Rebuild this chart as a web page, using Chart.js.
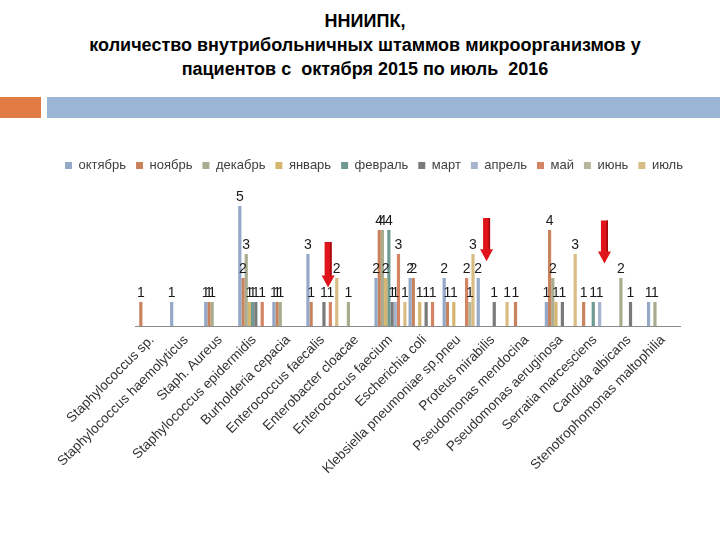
<!DOCTYPE html>
<html>
<head>
<meta charset="utf-8">
<script src="https://cdn.jsdelivr.net/npm/chart.js@4.4.0/dist/chart.umd.min.js"></script>
<style>
  body { margin: 0; background: #fff; width: 720px; height: 540px; position: relative; overflow: hidden; }
  #title { position: absolute; top: 9px; left: 0; width: 730px; text-align: center;
           font-family: "Liberation Sans", Arial, sans-serif; font-weight: bold;
           font-size: 18px; line-height: 24px; color: #000; }
  .strip-o { position: absolute; left: 0; top: 97px; width: 41px; height: 21px; background: #E07B43; }
  .strip-b { position: absolute; left: 47px; top: 97px; width: 673px; height: 21px; background: #9BB5D6; }
  #wrap { position: absolute; left: 0; top: 0; width: 720px; height: 540px; }
</style>
</head>
<body>
<div id="title">ННИИПК,<br>количество внутрибольничных штаммов микроорганизмов у<br>пациентов с&nbsp; октября 2015 по июль&nbsp; 2016</div>
<div class="strip-o"></div>
<div class="strip-b"></div>
<div id="wrap"><canvas id="chart" width="720" height="540"></canvas></div>

<script>
// микроорганизмы
const categories = [
  'Staphylococcus sp.', 'Staphylococcus haemolyticus', 'Staph. Aureus', 'Staphylococcus epidermidis',
  'Burholderia cepacia', 'Enterococcus faecalis', 'Enterobacter cloacae', 'Enterococcus faecium',
  'Escherichia coli', 'Klebsiella pneumoniae sp.pneu', 'Proteus mirabilis', 'Pseudomonas mendocina',
  'Pseudomonas aeruginosa', 'Serratia marcesciens', 'Candida albicans', 'Stenotrophomonas maltophilia'
];

const months = ['октябрь', 'ноябрь', 'декабрь', 'январь', 'февраль', 'март', 'апрель', 'май', 'июнь', 'июль'];

// количество штаммов по месяцам (null = нет)
const oct = [null, 1, 1, 5, 1, 3, null, 2, 2, 2, 2, null, 1, null, null, 1];
const nov = [1, null, 1, 2, 1, 1, null, 4, 2, 1, null, 1, 4, 1, null, null];
const dec = [null, null, 1, 3, 1, null, 1, 4, null, null, null, null, 2, null, 2, 1];
const jan = [null, null, null, 1, null, null, null, 2, 1, 1, null, null, 1, null, null, null];
const feb = [null, null, null, 1, null, null, null, 4, null, null, null, null, null, 1, null, null];
const mar = [null, null, null, 1, null, 1, null, 1, 1, null, 1, null, 1, null, 1, null];
const apr = [null, null, null, null, null, null, null, 1, null, null, null, null, null, 1, null, null];
const may = [null, null, null, 1, null, 1, null, 3, 1, 2, null, null, null, null, null, null];
const jun = [null, null, null, null, null, null, null, null, null, 1, null, null, null, null, null, null];
const jul = [null, null, null, null, null, 2, null, 1, null, 3, 1, null, 3, null, null, null];

const seriesData = [oct, nov, dec, jan, feb, mar, apr, may, jun, jul];
const colors = ['#94A8C8', '#C8835C', '#A9AC8E', '#D6B66E', '#6F9A91',
                '#7A7A7A', '#A6B3CF', '#D48462', '#B5B79B', '#D9BC84'];

// подписи значений над столбцами
const valueLabels = {
  id: 'valueLabels',
  afterDatasetsDraw(chart) {
    const ctx = chart.ctx;
    ctx.save();
    ctx.font = '14px "Liberation Sans", Arial, sans-serif';
    ctx.fillStyle = '#1a1a1a';
    ctx.textAlign = 'center';
    ctx.textBaseline = 'bottom';
    chart.data.datasets.forEach((ds, i) => {
      chart.getDatasetMeta(i).data.forEach((bar, k) => {
        const v = ds.data[k];
        if (v) ctx.fillText(String(v), bar.x, bar.y - 2);
      });
    });
    ctx.restore();
  }
};

// красные стрелки (категория, смещение в ширинах столбца, от значения, до значения)
const arrows = [
  { cat: 5, slot: 6.3, from: 3.5, to: 1.6 },
  { cat: 10, slot: 2.6, from: 4.5, to: 2.7 },
  { cat: 13, slot: 7.5, from: 4.4, to: 2.6 }
];
const redArrows = {
  id: 'redArrows',
  afterDatasetsDraw(chart) {
    const ctx = chart.ctx;
    const y = chart.scales.y;
    ctx.save();
    arrows.forEach(a => {
      const b0 = chart.getDatasetMeta(0).data[a.cat];
      const b1 = chart.getDatasetMeta(1).data[a.cat];
      const bw = b1.x - b0.x;
      const x = b0.x + a.slot * bw;
      const top = y.getPixelForValue(a.from);
      const tip = y.getPixelForValue(a.to);
      const headTop = tip - 12;
      ctx.fillStyle = '#E0141B';
      ctx.beginPath();
      ctx.moveTo(x - 3.5, top);
      ctx.lineTo(x + 3.5, top);
      ctx.lineTo(x + 3.5, headTop);
      ctx.lineTo(x + 6.5, headTop);
      ctx.lineTo(x, tip);
      ctx.lineTo(x - 6.5, headTop);
      ctx.lineTo(x - 3.5, headTop);
      ctx.closePath();
      ctx.fill();
      ctx.fillStyle = '#9E0A0E';
      ctx.fillRect(x + 2, top, 1.5, headTop - top);
    });
    ctx.restore();
  }
};

const ctx = document.getElementById('chart').getContext('2d');
new Chart(ctx, {
  type: 'bar',
  data: {
    labels: categories,
    datasets: seriesData.map((d, i) => ({
      label: months[i],
      data: d,
      backgroundColor: colors[i],
      borderWidth: 0,
      categoryPercentage: 0.94,
      barPercentage: 1.0
    }))
  },
  options: {
    responsive: false,
    animation: false,
    layout: { padding: { left: 28, right: 0, top: 149, bottom: 0 } },
    plugins: {
      legend: {
        position: 'top',
        labels: {
          boxWidth: 7,
          boxHeight: 7,
          padding: 10,
          color: '#404040',
          font: { family: '"Liberation Sans", Arial, sans-serif', size: 13 }
        }
      },
      tooltip: { enabled: false }
    },
    scales: {
      x: {
        grid: { display: false, drawTicks: false },
        border: { color: '#8a8a8a' },
        ticks: {
          autoSkip: false,
          minRotation: 45,
          maxRotation: 45,
          padding: 6,
          color: '#333',
          font: { family: '"Liberation Sans", Arial, sans-serif', size: 13.6 }
        },
        afterFit(scale) { scale.height = 214; }
      },
      y: {
        min: 0,
        max: 6,
        ticks: { display: false },
        grid: { display: false },
        border: { display: false },
        afterFit(scale) { scale.width = 107; }
      },
      y2: {
        position: 'right',
        ticks: { display: false },
        grid: { display: false },
        border: { display: false },
        afterFit(scale) { scale.width = 40; }
      }
    }
  },
  plugins: [valueLabels, redArrows]
});
</script>
</body>
</html>
